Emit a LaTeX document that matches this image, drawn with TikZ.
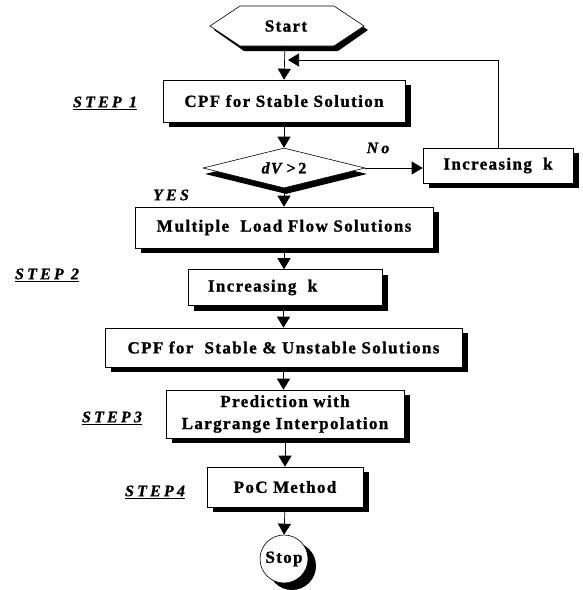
\documentclass[tikz,border=0pt]{standalone}
\usepackage{fontspec}
\setmainfont{Liberation Serif}
\usetikzlibrary{arrows.meta,shapes.geometric,shadows,calc}
\newfontfamily\boxfont[LetterSpace=8,FakeBold=1.2]{Liberation Serif}
\newfontfamily\stepfont[LetterSpace=20,FakeBold=1]{Liberation Serif}
\tikzset{
  shad/.style={drop shadow={shadow xshift=6pt,shadow yshift=-5pt,fill=black,opacity=1}},
  procbox/.style={draw=black,line width=0.6pt,fill=white,shad,inner sep=0pt,
    font=\boxfont\bfseries\fontsize{17}{22}\selectfont,align=center},
  steplabel/.style={font=\stepfont\bfseries\itshape\fontsize{16}{18}\selectfont,inner sep=0pt},
  flow/.style={line width=0.7pt,-{Triangle[width=13pt,length=11pt]}},
  plain/.style={line width=0.7pt}
}
\begin{document}
\begin{tikzpicture}[x=1pt,y=-1pt]
\useasboundingbox (0,0) rectangle (582,590);
% Start hexagon
\fill[black] (214,30) -- (244,10) -- (338,10) -- (368,30) -- (338,51) -- (244,51) -- cycle;
\filldraw[fill=white,draw=black,line width=0.6pt] (210,26) -- (240,6) -- (334,6) -- (364,26) -- (334,46) -- (240,46) -- cycle;
\node[font=\boxfont\bfseries\fontsize{17}{22}\selectfont,inner sep=0pt] (start) at (286,26) {Start};
\coordinate (startb) at (285,46);
% boxes
\node[procbox,minimum width=242pt,minimum height=42pt] (cpf1) at (284,101) {CPF for Stable Solution};
\node[diamond,draw=black,line width=0.6pt,fill=white,
  drop shadow={shadow xshift=2pt,shadow yshift=-6pt,fill=black,opacity=1},
  minimum width=162pt,minimum height=40pt,inner sep=0pt,aspect=4,
  font=\boxfont\bfseries\fontsize{16}{19}\selectfont] (dec) at (284,168) {\textit{dV}\,>\,2};
\node[procbox,minimum width=150pt,minimum height=35pt] (inc1) at (498,165.5) {Increasing\ \ k};
\node[procbox,minimum width=298pt,minimum height=41pt] (multi) at (284,227.5) {M\kern2ptultiple\ \ Load Flow Solutions};
\node[procbox,minimum height=36pt,text width=154pt,inner xsep=20pt,align=left] (inc2) at (285,287.5) {Increasing\ \ k};
\node[procbox,minimum width=357pt,minimum height=39pt] (cpf2) at (283.5,347.5) {CPF for\ \ Stable \& Unstable Solutions};
\node[procbox,minimum width=238pt,minimum height=48pt,font=\boxfont\bfseries\fontsize{17}{22}\selectfont] (pred) at (285,414) {Prediction with\\Largrange Interpolation};
\node[procbox,minimum width=156pt,minimum height=40pt] (poc) at (285,487) {PoC M\kern1ptethod};
\node[circle,draw=black,line width=0.6pt,fill=white,minimum size=48pt,inner sep=0pt,
  drop shadow={shadow xshift=8pt,shadow yshift=-7pt,fill=black,opacity=1},
  font=\boxfont\bfseries\fontsize{17}{22}\selectfont] (stop) at (284,559) {Stop};
% labels
\node[steplabel] (s1) at (105,103) {\underline{STEP 1}};
\node[steplabel] (s2) at (47,275) {\underline{STEP 2}};
\node[steplabel] (s3) at (112,418) {\underline{STEP3}};
\node[steplabel] (s4) at (155,492) {\underline{STEP4}};
\node[steplabel] (yes) at (171,195) {YES};
\node[steplabel] (no) at (378,148) {No};
% connectors
\coordinate (merge) at (285,60);
\coordinate (fbcorner) at (498,60);
\draw[flow] (startb) -- (cpf1.north);
\draw[flow] (cpf1.south) -- (dec.north);
\draw[flow] (dec.east) -- (inc1.west |- dec.east);
\draw[plain] (inc1.north) -- (fbcorner);
\draw[flow] (fbcorner) -- ($(merge)+(3,0)$);
\draw[flow] (dec.south) -- (multi.north);
\draw[flow] (multi.south) -- (inc2.north -| multi.south);
\draw[flow] (inc2.south -| cpf2.north) -- (cpf2.north);
\draw[flow] (cpf2.south) -- (pred.north -| cpf2.south);
\draw[flow] (pred.south) -- (poc.north);
\draw[flow] (poc.south) -- (stop.north);
\end{tikzpicture}
\end{document}
